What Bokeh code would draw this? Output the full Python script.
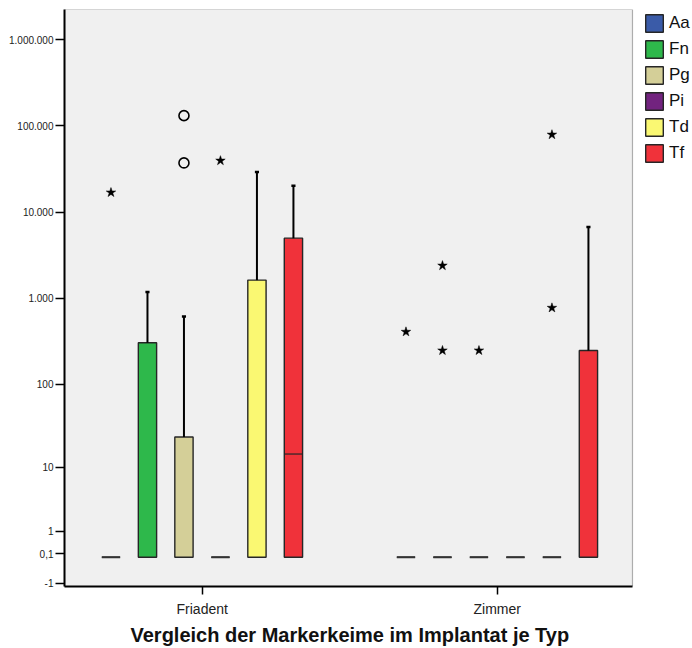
import numpy as np
from bokeh.plotting import figure
from bokeh.models import (ColumnDataSource, FixedTicker, Legend, LegendItem, Range1d,
                          BoxAnnotation, Title)
from bokeh.embed import file_html
from bokeh.resources import INLINE

# ---------------- data ----------------
groups = ["Friadent", "Zimmer"]
species = ["Aa", "Fn", "Pg", "Pi", "Td", "Tf"]
colors = ["#3A5BA8", "#2EB84B", "#D4CF98", "#72237F", "#FAF872", "#F0323A"]

# box statistics per group, in species order
fri_q1 = [0, 0, 0, 0, 0, 0]
fri_med = [0, 0, 0, 0, 0, 14.7]
fri_q3 = [0, 305, 23.7, 0, 1630, 5000]
fri_whisk = [0, 1190, 616, 0, 29300, 20300]

zim_q1 = [0, 0, 0, 0, 0, 0]
zim_med = [0, 0, 0, 0, 0, 0]
zim_q3 = [0, 0, 0, 0, 0, 248]
zim_whisk = [0, 0, 0, 0, 0, 6750]

# outliers (circles) and extremes (stars): (group, species, value)
out_group = ["Friadent", "Friadent"]
out_species = ["Pg", "Pg"]
out_value = [131600, 37250]

ext_group = ["Friadent", "Friadent", "Zimmer", "Zimmer", "Zimmer", "Zimmer", "Zimmer", "Zimmer"]
ext_species = ["Aa", "Pi", "Aa", "Fn", "Fn", "Pg", "Td", "Td"]
ext_value = [16900, 39600, 409, 2400, 248, 248, 79200, 777]

y_tick_values = [-1, 0.1, 1, 10, 100, 1000, 10000, 100000, 1000000]
y_tick_labels = ["-1", "0,1", "1", "10", "100", "1.000", "10.000", "100.000", "1.000.000"]

x_title = "Vergleich der Markerkeime im Implantat je Typ"

# ---------------- helpers ----------------
def tr(v):
    v = np.asarray(v, dtype=float)
    return np.sign(v) * np.log10(1 + np.abs(v))

STEP = 0.1237
BW = 0.062
CAP = 0.007

def xpos(g, s):
    return groups.index(g) + 1 + (species.index(s) - 2.5) * STEP

FONT = "Liberation Sans"
W, H = 692, 648
ML, MT, MB, MR = 64, 9, 62, 0
FW, FH = W - ML - MR, H - MT - MB
X0, XPLOT_END = 0.5332, 2.4586
PXU = 295.0
X1 = X0 + FW / PXU

p = figure(width=W, height=H, output_backend="svg", toolbar_location=None,
           x_range=Range1d(X0, X1), y_range=Range1d(-0.34, 6.35),
           min_border_left=ML, min_border_top=MT, min_border_bottom=MB, min_border_right=MR)
p.background_fill_color = "white"
p.border_fill_color = "white"
p.outline_line_color = None
p.xgrid.visible = False
p.ygrid.visible = False

p.add_layout(BoxAnnotation(right=XPLOT_END, fill_color="#F0F0F0", fill_alpha=1,
                           line_color="black", line_width=1.2, level="underlay"))

stats = {"Friadent": (fri_q1, fri_med, fri_q3, fri_whisk),
         "Zimmer": (zim_q1, zim_med, zim_q3, zim_whisk)}

legend_items = []
flat_x0, flat_x1, flat_y = [], [], []
wx, wy0, wy1 = [], [], []
cx0, cx1, cy = [], [], []
mx0, mx1, my = [], [], []
for si, s in enumerate(species):
    L, R, B, T = [], [], [], []
    for g in groups:
        q1, med, q3, wh = (arr[si] for arr in stats[g])
        x = xpos(g, s)
        L.append(x - BW / 2); R.append(x + BW / 2)
        B.append(float(tr(q1))); T.append(float(tr(q3)))
        if q3 > q1:
            if med > q1:
                mx0.append(x - BW / 2); mx1.append(x + BW / 2); my.append(float(tr(med)))
        else:
            flat_x0.append(x - BW / 2); flat_x1.append(x + BW / 2); flat_y.append(float(tr(q1)))
        if wh > q3:
            wx.append(x); wy0.append(float(tr(q3))); wy1.append(float(tr(wh)))
            cx0.append(x - CAP); cx1.append(x + CAP); cy.append(float(tr(wh)))
    src = ColumnDataSource(dict(left=L, right=R, bottom=B, top=T))
    r = p.quad(left="left", right="right", bottom="bottom", top="top", source=src,
               fill_color=colors[si], line_color="#262626", line_width=1.4)
    legend_items.append(LegendItem(label=s, renderers=[r]))

p.segment(x0="x", y0="y0", x1="x", y1="y1",
          source=ColumnDataSource(dict(x=wx, y0=wy0, y1=wy1)), line_color="black", line_width=2)
p.segment(x0="x0", y0="y", x1="x1", y1="y",
          source=ColumnDataSource(dict(x0=cx0, x1=cx1, y=cy)), line_color="black", line_width=2.5)
p.segment(x0="x0", y0="y", x1="x1", y1="y",
          source=ColumnDataSource(dict(x0=mx0, x1=mx1, y=my)), line_color="#262626", line_width=1.2)
p.segment(x0="x0", y0="y", x1="x1", y1="y",
          source=ColumnDataSource(dict(x0=flat_x0, x1=flat_x1, y=flat_y)), line_color="#333333", line_width=2)

ox = [xpos(g, s) for g, s in zip(out_group, out_species)]
p.scatter(x=ox, y=list(tr(out_value)), marker="circle", size=10, fill_color=None,
          line_color="black", line_width=1.6)
ex = [xpos(g, s) for g, s in zip(ext_group, ext_species)]
p.scatter(x=ex, y=list(tr(ext_value)), marker="star", size=10, fill_color="black",
          line_color="black", line_width=0.5)

# axes
p.xaxis.bounds = (X0, XPLOT_END)
p.xaxis.ticker = FixedTicker(ticks=[1, 2])
p.xaxis.major_label_overrides = {1: groups[0], 2: groups[1]}
p.xaxis.minor_tick_line_color = None
p.xaxis.major_tick_in = 0
p.xaxis.major_tick_out = 8
p.xaxis.major_tick_line_width = 1.5
p.xaxis.axis_line_width = 2
p.xaxis.major_label_standoff = 6
p.xaxis.major_label_text_font = FONT
p.xaxis.major_label_text_font_size = "14px"
p.xaxis.major_label_text_color = "#222222"

# x-axis title, centred under the plot area (not under the legend)
TITLE_W = 436
title = Title(text=x_title, align="left", offset=(ML + (XPLOT_END - X0) * PXU / 2) - ML - TITLE_W / 2,
              text_font=FONT, text_font_size="20px", text_font_style="bold",
              text_color="#111111", standoff=4)
p.add_layout(title, "below")

yt = [float(v) for v in tr(y_tick_values)]
p.yaxis.ticker = FixedTicker(ticks=yt)
p.yaxis.major_label_overrides = {t: l for t, l in zip(yt, y_tick_labels)}
p.yaxis.minor_tick_line_color = None
p.yaxis.major_tick_in = 0
p.yaxis.major_tick_out = 9
p.yaxis.major_tick_line_width = 1.5
p.yaxis.axis_line_width = 2
p.yaxis.major_label_standoff = 2
p.yaxis.major_label_text_font = FONT
p.yaxis.major_label_text_font_size = "10px"
p.yaxis.major_label_text_color = "#222222"

PAD, GH, SP, N = 4, 22, 4, len(species)
LEG_H = 2 * PAD + N * GH + (N - 1) * SP
legend = Legend(items=legend_items, location=(643 - ML, (H - MB) - 4 - LEG_H),
                margin=0, padding=PAD,
                glyph_width=22, glyph_height=GH, spacing=SP, label_standoff=4,
                label_text_font=FONT, label_text_font_size="17px", label_text_color="#111111",
                border_line_color=None, background_fill_alpha=0)
p.add_layout(legend)

open("out.html", "w").write(file_html(p, INLINE))
